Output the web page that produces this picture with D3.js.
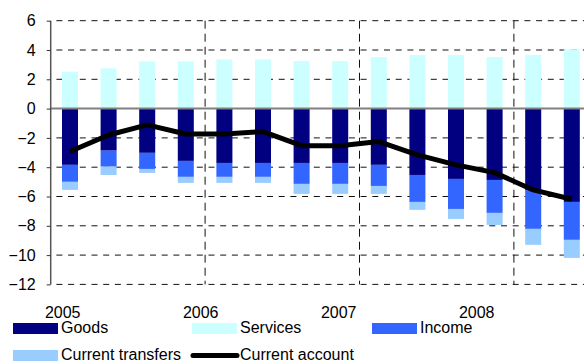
<!DOCTYPE html>
<html>
<head>
<meta charset="utf-8">
<script src="https://cdn.jsdelivr.net/npm/d3@7/dist/d3.min.js"></script>
<style>
  html, body { margin: 0; padding: 0; background: #fff; }
  svg { display: block; font-family: Arial, "Liberation Sans", sans-serif; }
</style>
</head>
<body>
<div id="chart"></div>
<script>
// Quarterly balance of payments components (per cent of GDP)
const quarters = ["2005Q1","2005Q2","2005Q3","2005Q4","2006Q1","2006Q2","2006Q3","2006Q4",
                  "2007Q1","2007Q2","2007Q3","2007Q4","2008Q1","2008Q2"];
const years = ["2005","2006","2007","2008"];
const goods     = [-3.84,-2.87,-3.02,-3.57,-3.71,-3.71,-3.71,-3.71,-3.84,-4.53,-4.80,-4.87,-5.56,-6.37];
const services  = [ 2.52, 2.75, 3.22, 3.22, 3.36, 3.36, 3.24, 3.24, 3.52, 3.66, 3.66, 3.52, 3.66, 4.05];
const income    = [-1.16,-1.09,-1.10,-1.09,-0.95,-0.95,-1.43,-1.43,-1.44,-1.84,-2.05,-2.25,-2.65,-2.59];
const transfers = [-0.55,-0.57,-0.27,-0.41,-0.41,-0.41,-0.68,-0.68,-0.54,-0.54,-0.68,-0.82,-1.09,-1.23];
const currentAccount = [-2.93,-1.80,-1.11,-1.73,-1.73,-1.57,-2.53,-2.53,-2.25,-3.16,-3.84,-4.37,-5.55,-6.19];
const yTicks = [6,4,2,0,-2,-4,-6,-8,-10,-12];

const W = 584, H = 364;
const plotLeft = 50.7, plotTop = 20.7, plotBottom = 284.4;
const step = 38.6;

const svg = d3.select("#chart").append("svg").attr("width", W).attr("height", H);

const x = d3.scaleBand().domain(quarters)
  .range([plotLeft, plotLeft + step * quarters.length])
  .paddingInner(0.585).paddingOuter(0.2925);
const y = d3.scaleLinear().domain([-12, 6]).range([plotBottom, plotTop]);

// horizontal dashed gridlines
svg.append("g").selectAll("line").data(yTicks.filter(d => d !== 0)).join("line")
  .attr("x1", plotLeft).attr("x2", W)
  .attr("y1", d => y(d)).attr("y2", d => y(d))
  .attr("stroke", "#111").attr("stroke-width", 1)
  .attr("stroke-dasharray", "6,5.7").attr("stroke-dashoffset", -5.7);

// vertical dashed separators between years
const sepIdx = [4, 8, 12];
const sepX = i => x(quarters[i]) - x.step() * x.paddingInner() / 2;
svg.append("g").selectAll("line").data(sepIdx).join("line")
  .attr("x1", sepX).attr("x2", sepX)
  .attr("y1", plotTop).attr("y2", plotBottom)
  .attr("stroke", "#111").attr("stroke-width", 1).attr("stroke-dasharray", "8,5");

// stacked bars: positives above zero, negatives stacked below
const series = [
  { key: "Goods", values: goods, color: "#000080" },
  { key: "Services", values: services, color: "#CCFFFF" },
  { key: "Income", values: income, color: "#3366FF" },
  { key: "Current transfers", values: transfers, color: "#99CCFF" }
];
const rows = quarters.map((q, i) => {
  const r = { q };
  series.forEach(s => r[s.key] = s.values[i]);
  return r;
});
const stacked = d3.stack().keys(series.map(s => s.key)).offset(d3.stackOffsetDiverging)(rows);

svg.append("g").selectAll("g").data(stacked).join("g")
  .attr("fill", (d, i) => series[i].color)
  .selectAll("rect").data(d => d).join("rect")
  .attr("x", d => x(d.data.q))
  .attr("width", x.bandwidth())
  .attr("y", d => y(d[1]))
  .attr("height", d => y(d[0]) - y(d[1]));

// zero line
svg.append("line")
  .attr("x1", plotLeft).attr("x2", W).attr("y1", y(0)).attr("y2", y(0))
  .attr("stroke", "#808080").attr("stroke-width", 2);

// y axis
const yAxis = d3.axisLeft(y).tickValues(yTicks).tickSize(4).tickPadding(11).tickFormat(d3.format("d"));
const ya = svg.append("g").attr("transform", `translate(${plotLeft},0)`).call(yAxis);
ya.select(".domain").attr("stroke", "#555").attr("stroke-width", 1.5)
  .attr("d", `M0,${plotTop}V${plotBottom}`);
ya.selectAll(".tick line").attr("stroke", "#333");
ya.selectAll(".tick text").attr("font-size", 16).attr("fill", "#000")
  .attr("font-family", "Arial, 'Liberation Sans', sans-serif");

// current account line
const line = d3.line()
  .x((d, i) => x(quarters[i]) + x.bandwidth() / 2)
  .y(d => y(d));
svg.append("path").datum(currentAccount)
  .attr("d", line).attr("fill", "none")
  .attr("stroke", "#000").attr("stroke-width", 5)
  .attr("stroke-linejoin", "round");

// year labels
const yearX = d3.scalePoint().domain(years).range([62.7, 476.7]);
svg.append("g").selectAll("text").data(years).join("text")
  .attr("x", d => yearX(d)).attr("y", 318)
  .attr("text-anchor", "middle").attr("font-size", 16).text(d => d);

// legend
const legendItems = [
  { label: "Goods", color: "#000080", type: "rect", x: 13, y: 323 },
  { label: "Services", color: "#CCFFFF", type: "rect", x: 192, y: 323 },
  { label: "Income", color: "#3366FF", type: "rect", x: 372, y: 323 },
  { label: "Current transfers", color: "#99CCFF", type: "rect", x: 13, y: 350 },
  { label: "Current account", color: "#000", type: "line", x: 192, y: 350 }
];
const lg = svg.append("g").selectAll("g").data(legendItems).join("g")
  .attr("transform", d => `translate(${d.x},${d.y})`);
lg.filter(d => d.type === "rect").append("rect")
  .attr("width", 45).attr("height", 11).attr("fill", d => d.color);
lg.filter(d => d.type === "line").append("line")
  .attr("x1", 1).attr("x2", 45).attr("y1", 5.5).attr("y2", 5.5)
  .attr("stroke", d => d.color).attr("stroke-width", 5).attr("stroke-linecap", "round");
lg.append("text").attr("x", 48).attr("y", 10)
  .attr("font-size", 16).text(d => d.label);
</script>
</body>
</html>
